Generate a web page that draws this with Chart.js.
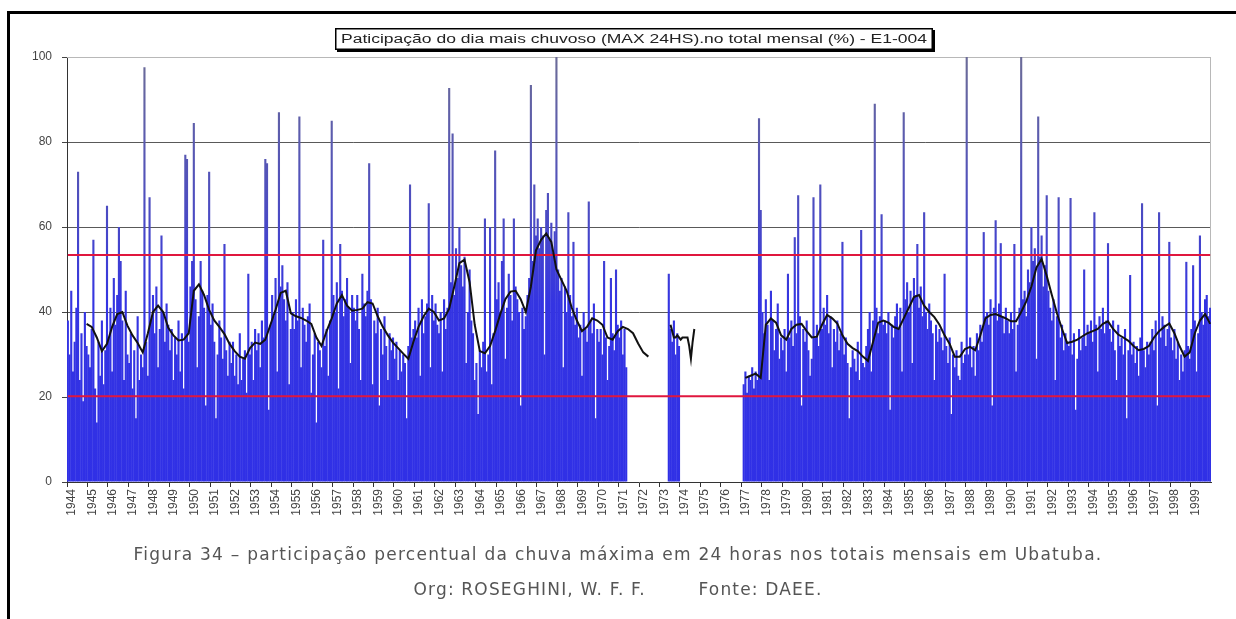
<!DOCTYPE html>
<html>
<head>
<meta charset="utf-8">
<script src="https://cdn.jsdelivr.net/npm/chart.js@4.4.1/dist/chart.umd.min.js"></script>
<style>
  html, body { margin: 0; padding: 0; background: #fff; width: 1236px; height: 619px; overflow: hidden; }
  body { position: relative; }
  #wrap { position: absolute; left: 0; top: 0; width: 1236px; height: 530px; }
  .frame-top { position: absolute; left: 7px; top: 11px; width: 1229px; height: 3px; background: #000; }
  .frame-left { position: absolute; left: 7px; top: 11px; width: 3px; height: 608px; background: #000; }
  .caption { position: absolute; left: 0; width: 1236px; text-align: center; font-family: "DejaVu Sans", Verdana, sans-serif; font-size: 17px; color: #555; }
  .caption span { white-space: pre; display: inline-block; }
</style>
</head>
<body>
<div id="wrap"><canvas id="chart" width="1236" height="530" style="width:1236px;height:530px"></canvas></div>
<div class="frame-top"></div>
<div class="frame-left"></div>
<div class="caption" style="top:544px"><span id="cap1" data-w="969">Figura 34 – participação percentual da chuva máxima em 24 horas nos totais mensais em Ubatuba.</span></div>
<div class="caption" style="top:579px"><span id="cap2" data-w="409">Org: ROSEGHINI, W. F. F.        Fonte: DAEE.</span></div>
<script>
// Station E1-004 (Ubatuba): share of the wettest day in the monthly total, %, Jan 1944 – Dec 1999
const firstYear = 1944;
const lastYear = 1999;
const chartTitle = 'Paticipação do dia mais chuvoso (MAX 24HS).no total mensal (%) - E1-004';

const noData12 = [null, null, null, null, null, null, null, null, null, null, null, null];

const share1940s = [
  38, 30, 45, 26, 33, 41, 73, 24, 35, 19, 40, 32,        // 1944
  30, 27, 36, 57, 22, 14, 33, 25, 38, 23, 31, 65,        // 1945
  34, 41, 26, 48, 37, 44, 60, 52, 38, 24, 45, 30,        // 1946
  28, 35, 22, 31, 15, 39, 24, 30, 27, 97.6, 33, 25,      // 1947
  67, 38, 44, 35, 46, 27, 36, 58, 40, 33, 42, 37,        // 1948
  31, 36, 24, 34, 30, 38, 26, 35, 22, 77, 76, 33         // 1949
];
const share1950s = [
  46, 52, 84.5, 43, 27, 39, 52, 45, 41, 18, 44, 73,      // 1950
  37, 42, 33, 15, 30, 38, 34, 29, 56, 31, 25, 33,        // 1951
  28, 33, 25, 30, 23, 35, 24, 29, 31, 21, 49, 30,        // 1952
  33, 24, 36, 31, 35, 27, 38, 34, 76, 75, 17, 37,        // 1953
  44, 39, 48, 26, 87, 46, 51, 43, 38, 47, 23, 36,        // 1954
  40, 36, 43, 38, 86, 27, 41, 37, 33, 39, 42, 21,        // 1955
  30, 35, 14, 33, 31, 27, 57, 32, 36, 25, 38, 85,        // 1956
  44, 40, 47, 22, 56, 45, 39, 43, 48, 41, 28, 44,        // 1957
  41, 38, 44, 36, 24, 49, 42, 39, 45, 75, 43, 23,        // 1958
  38, 35, 41, 18, 36, 30, 39, 32, 24, 35, 31, 34         // 1959
];
const share1960s = [
  29, 33, 24, 31, 26, 30, 28, 15, 32, 70, 34, 36,        // 1960
  38, 34, 41, 25, 43, 35, 39, 42, 65.6, 27, 44, 38,      // 1961
  42, 37, 35, 40, 26, 43, 36, 41, 92.7, 47, 82, 44,      // 1962
  55, 48, 60, 51, 46, 53, 28, 40, 50, 38, 35, 24,        // 1963
  28, 16, 31, 27, 33, 62, 26, 30, 60, 23, 35, 78,        // 1964
  43, 47, 40, 52, 62, 29, 41, 49, 44, 38, 62, 46,        // 1965
  43, 40, 18, 41, 36, 39, 44, 48, 93.4, 52, 70, 58,      // 1966
  62, 55, 60, 58, 30, 64, 68, 57, 61, 54, 59, 100,       // 1967
  50, 45, 48, 27, 46, 40, 63.5, 44, 39, 56.5, 37, 41,    // 1968
  34, 37, 25, 40, 36, 33, 66, 38, 35, 42, 15, 36         // 1969
];
const share1970s = [
  33, 36, 30, 52, 34, 24, 32, 48, 35, 31, 50, 37,        // 1970
  34, 38, 30, 36, 27, null, null, null, null, null, null, null, // 1971
  ...noData12,                                           // 1972
  null, null, null, null, null, 49, 36, 33, 38, 30, 35, 32,     // 1973
  ...noData12,                                           // 1974
  ...noData12,                                           // 1975
  ...noData12,                                           // 1976
  null, 23, 26, 21, 25, 24, 27, 22, 26, 24, 85.6, 64,    // 1977
  40, 35, 43, 37, 24, 45, 38, 31, 36, 42, 29, 34,        // 1978
  31, 36, 26, 49, 34, 38, 32, 57.6, 35, 67.5, 39, 18     // 1979
];
const share1980s = [
  36, 33, 38, 31, 25, 29, 67, 34, 37, 32, 70, 36,        // 1980
  41, 37, 44, 35, 39, 27, 36, 33, 38, 31, 35, 56.5,      // 1981
  30, 34, 28, 15, 27, 31, 29, 26, 33, 24, 59.3, 28,      // 1982
  27, 32, 36, 40, 26, 38, 89, 41, 35, 39, 63, 37,        // 1983
  38, 35, 40, 17, 37, 34, 39, 42, 36, 41, 26, 87,        // 1984
  43, 47, 40, 45, 28, 48, 44, 56, 41, 46, 39, 63.5,      // 1985
  40, 36, 42, 38, 35, 24, 37, 33, 36, 34, 31, 49,        // 1986
  32, 28, 34, 16, 30, 27, 31, 25, 24, 33, 28, 30,        // 1987
  100, 30, 34, 27, 32, 25, 35, 31, 37, 33, 58.8, 39,     // 1988
  40, 37, 43, 18, 41, 61.6, 38, 42, 56.2, 39, 35, 41     // 1989
];
const share1990s = [
  38, 35, 40, 36, 56, 26, 37, 41, 100, 43, 45, 39,       // 1990
  50, 47, 60, 52, 55, 29, 86, 53, 58, 46, 51, 67.5,      // 1991
  45, 41, 38, 43, 24, 39, 67, 34, 37, 31, 35, 33,        // 1992
  32, 66.8, 30, 35, 17, 29, 36, 31, 34, 50, 32, 37,      // 1993
  35, 38, 33, 63.5, 37, 26, 39, 36, 41, 35, 38, 56.2,    // 1994
  36, 33, 38, 31, 24, 37, 32, 34, 30, 36, 15, 31,        // 1995
  48.7, 30, 33, 28, 32, 25, 34, 65.6, 31, 27, 33, 30,    // 1996
  33, 36, 31, 38, 18, 63.5, 34, 39, 37, 32, 36, 56.5,    // 1997
  34, 31, 36, 29, 33, 24, 30, 26, 31, 51.8, 32, 29,      // 1998
  36, 51, 38, 26, 35, 58, 40, 37, 43, 44, 39, 41         // 1999
];

// 12-month moving average, read every 3rd month (run 2 monthly); one run per continuous stretch
const movAvgRun1Start = '1944-12';
const movAvgRun1Step = 3;
const movAvgRun1 = [
  37.2, 36.5, 34, 30.8, 32.5, 36.5, 39.5, 40, 36.8, 34.5, 32.7, 30.5,
  35, 40, 41.5, 40, 36.3, 34.5, 33.3, 33.5, 35, 45, 46.5, 44,
  40.5, 38, 36.5, 34.8, 32.5, 30.8, 29.5, 29, 31.5, 32.8, 32.5, 33.5,
  37, 40.5, 44.5, 45, 39.7, 39, 38.6, 38, 37.2, 34, 32, 35.5,
  38.5, 42, 44, 41.5, 40.3, 40.5, 40.8, 42.3, 42, 39, 36.5, 34.5,
  32.8, 31.5, 30.2, 29, 33, 36.5, 39, 40.8, 40, 38, 38.5, 40.8,
  46, 51.5, 52.3, 47, 37, 30.8, 30.3, 32, 35.5, 39.5, 43, 44.8,
  45, 43, 40, 46, 54.5, 57, 58.5, 56.5, 50, 47.5, 45, 41,
  38, 35.5, 36.5, 38.5, 38, 37, 34, 33.5, 35.5, 36.5, 36, 35,
  32.6, 30.5, 29.5
];
const movAvgRun2Start = '1973-07';
const movAvgRun2Step = 1;
const movAvgRun2 = [37, 35.5, 34, 34, 34.5, 34, 33.5, 34, 34, 34, 34, 32, 29, 33, 36];
const movAvgRun3Start = '1977-03';
const movAvgRun3Step = 3;
const movAvgRun3 = [
  24.5, 25, 25.5, 24.5, 37, 38.5, 37.5, 34.5, 33.5, 36, 37, 37.2,
  35.5, 34, 34.2, 37, 39.3, 38.5, 37.3, 34.5, 32.5, 31.5, 30.8, 29.5,
  28.5, 33, 37.5, 38, 37.5, 36.5, 36, 38.5, 41, 43.5, 44, 41.5,
  40, 38.8, 37, 34.5, 32.5, 29.5, 29.5, 31.3, 31.8, 31, 34.5, 38.5,
  39.3, 39.5, 39, 38.5, 37.8, 37.8, 40, 42.5, 46, 50.5, 52.5, 48.5,
  44, 39.7, 36, 32.7, 33, 33.5, 34.3, 35, 35.5, 36, 37.2, 37.8,
  36, 34.7, 34, 33.2, 32, 31, 31.3, 32, 34, 35.5, 36.5, 37.3,
  35, 32, 29.5, 30.5, 35, 38, 39.5, 37.2
];

// Reference levels drawn across the whole record
const upperLimit = 53.4;
const lowerLimit = 20.2;

// ---- build chart data ----
const monthLabels = [];
for (let y = firstYear; y <= lastYear; y++) {
  for (let m = 1; m <= 12; m++) monthLabels.push(y + '-' + String(m).padStart(2, '0'));
}
const monthlyShare = [...share1940s, ...share1950s, ...share1960s, ...share1970s, ...share1980s, ...share1990s];

function placeRun(start, step, values) {
  const out = monthLabels.map(() => null);
  const i0 = monthLabels.indexOf(start);
  values.forEach((v, k) => { out[i0 + k * step] = v; });
  return out;
}

// bar fill: vivid blue low down, greying towards the top of the plot where the bars stand alone
let barFill = null;
function barColor(c) {
  const a = c.chart.chartArea;
  if (!a) return '#3232e4';
  if (!barFill) {
    barFill = c.chart.ctx.createLinearGradient(0, a.bottom, 0, a.top);
    barFill.addColorStop(0, '#3030e6');
    barFill.addColorStop(0.42, '#3434e2');
    barFill.addColorStop(0.62, '#4a4ac4');
    barFill.addColorStop(1, '#6c6c98');
  }
  return barFill;
}

const lineBase = { type: 'line', pointRadius: 0, pointHoverRadius: 0, tension: 0, fill: false };

const titleAndFrame = {
  id: 'titleAndFrame',
  beforeDatasetsDraw(chart) {
    const { ctx, chartArea: a } = chart;
    ctx.save();
    ctx.strokeStyle = '#b8b8b8';
    ctx.lineWidth = 1;
    ctx.beginPath();
    ctx.moveTo(a.left, a.top + 0.5);
    ctx.lineTo(a.right - 0.5, a.top + 0.5);
    ctx.lineTo(a.right - 0.5, a.bottom);
    ctx.stroke();
    ctx.restore();
  },
  afterDraw(chart) {
    const ctx = chart.ctx;
    const bx = 335, by = 28, bw = 598, bh = 22;
    ctx.save();
    ctx.fillStyle = '#000';
    ctx.fillRect(bx + 2, by + 2, bw, bh);
    ctx.fillStyle = '#fff';
    ctx.fillRect(bx, by, bw, bh);
    ctx.strokeStyle = '#000';
    ctx.lineWidth = 1.5;
    ctx.strokeRect(bx + 0.75, by + 0.75, bw - 1.5, bh - 1.5);
    ctx.font = '12px "Liberation Sans", Arial, sans-serif';
    ctx.fillStyle = '#222';
    ctx.textBaseline = 'middle';
    ctx.textAlign = 'center';
    const natural = ctx.measureText(chartTitle).width;
    const sx = 586 / natural;
    ctx.translate(bx + bw / 2, by + bh / 2 + 0.5);
    ctx.scale(sx, 1);
    ctx.fillText(chartTitle, 0, 0);
    ctx.restore();
  }
};

new Chart(document.getElementById('chart'), {
  data: {
    labels: monthLabels,
    datasets: [
      { ...lineBase, label: 'Média móvel', data: placeRun(movAvgRun1Start, movAvgRun1Step, movAvgRun1), spanGaps: true, borderColor: '#111', borderWidth: 2, order: 1 },
      { ...lineBase, label: 'Média móvel', data: placeRun(movAvgRun2Start, movAvgRun2Step, movAvgRun2), spanGaps: true, borderColor: '#111', borderWidth: 2, order: 1 },
      { ...lineBase, label: 'Média móvel', data: placeRun(movAvgRun3Start, movAvgRun3Step, movAvgRun3), spanGaps: true, borderColor: '#111', borderWidth: 2, order: 1 },
      { ...lineBase, label: 'Limite superior', data: monthLabels.map(() => upperLimit), borderColor: '#e0163e', borderWidth: 2, order: 2 },
      { ...lineBase, label: 'Limite inferior', data: monthLabels.map(() => lowerLimit), borderColor: '#e0163e', borderWidth: 2, order: 2 },
      {
        type: 'bar', label: 'MAX 24HS / total mensal (%)', data: monthlyShare,
        backgroundColor: barColor, borderWidth: 0,
        barPercentage: 1.25, categoryPercentage: 1.0, order: 3
      }
    ]
  },
  options: {
    responsive: false,
    animation: false,
    devicePixelRatio: 1,
    layout: { padding: { left: 8, right: 25, top: 57, bottom: 0 } },
    plugins: { legend: { display: false }, tooltip: { enabled: false }, title: { display: false } },
    scales: {
      x: {
        type: 'category',
        offset: true,
        afterFit(scale) { scale.height = 48; },
        grid: {
          offset: true, drawOnChartArea: false, drawTicks: true, tickLength: 5,
          color: (c) => (c.index % 12 === 0 ? '#333' : 'rgba(0,0,0,0)')
        },
        border: { color: '#333', width: 1 },
        ticks: {
          autoSkip: false, maxRotation: 90, minRotation: 90, padding: 2, labelOffset: 4,
          color: '#444', font: { size: 12, family: '"Liberation Sans", Arial, sans-serif' },
          callback: (v, i) => (i % 12 === 0 ? monthLabels[i].slice(0, 4) : '')
        }
      },
      y: {
        min: 0, max: 100,
        z: 1,
        afterFit(scale) { scale.width = 59; },
        ticks: { stepSize: 20, color: '#444', padding: 10, font: { size: 12, family: '"Liberation Sans", Arial, sans-serif' } },
        grid: {
          color: (c) => (c.tick.value === 100 ? '#b8b8b8' : (c.tick.value === 20 || c.tick.value === 0 ? 'rgba(0,0,0,0)' : 'rgba(60,60,60,0.85)')),
          tickColor: '#444', lineWidth: 1, tickLength: 5
        },
        border: { color: '#333', width: 1 }
      }
    }
  },
  plugins: [titleAndFrame]
});

// stretch caption lines to their printed width
document.querySelectorAll('.caption span').forEach((el) => {
  const target = +el.dataset.w;
  const w = el.getBoundingClientRect().width;
  const n = el.textContent.length;
  el.style.letterSpacing = ((target - w) / n) + 'px';
});
</script>
</body>
</html>
